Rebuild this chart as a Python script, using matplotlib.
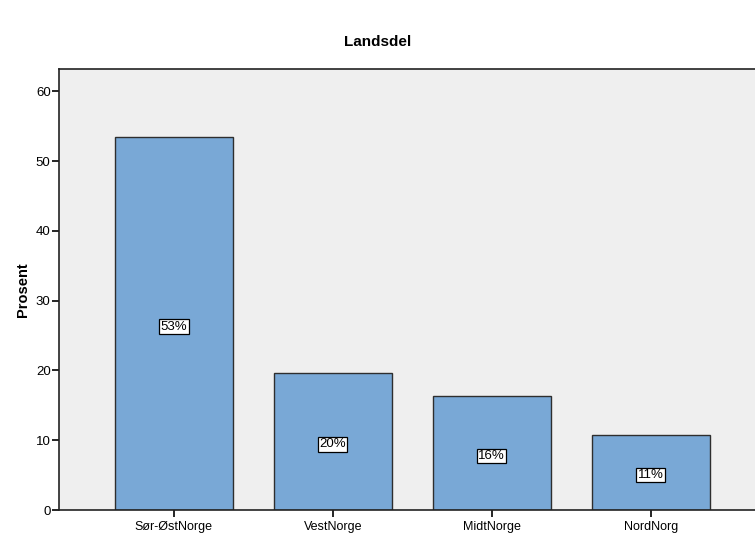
import matplotlib
matplotlib.use("Agg")
import matplotlib.pyplot as plt

plt.rcParams['font.family'] = ['Liberation Sans', 'DejaVu Sans']

regions = ["Sør-ØstNorge", "VestNorge", "MidtNorge", "NordNorg"]
percent = [53.4, 19.6, 16.3, 10.8]
yticks = [0, 10, 20, 30, 40, 50, 60]

fig = plt.figure(figsize=(7.55, 5.38), dpi=100)
ax = fig.add_axes([0.0781, 0.052, 0.936, 0.8197])
ax.set_facecolor("#efefef")

x = list(range(len(regions)))
ax.bar(x, percent, width=0.745, color="#79a8d6", edgecolor="#2e2e2e", linewidth=1.0)

# percentage labels in the middle of each bar
for xi, v in zip(x, percent):
    ax.text(xi, v / 2 - 0.4, "%d%%" % round(v), ha="center", va="center", fontsize=9.5,
            bbox=dict(boxstyle="square,pad=0.1", fc="white", ec="black", lw=0.9))

ax.set_xlim(-0.723, 3.723)
ax.set_ylim(0, 63.2)
ax.set_yticks(yticks)
ax.set_xticks(x)
ax.set_xticklabels(regions, fontsize=9)
ax.tick_params(axis="y", labelsize=9.5, length=5, width=1.2, direction="out", pad=1)
ax.tick_params(axis="x", length=5, width=1.2, direction="out", pad=3)

for side in ["top", "left", "bottom"]:
    ax.spines[side].set_linewidth(1.2)
    ax.spines[side].set_color("#222222")
ax.spines["right"].set_visible(False)

ax.set_ylabel("Prosent", fontsize=10.5, fontweight="bold", labelpad=4)
fig.text(0.5, 0.922, "Landsdel", ha="center", va="center", fontsize=11, fontweight="bold")

fig.savefig("out.png", dpi=100)
